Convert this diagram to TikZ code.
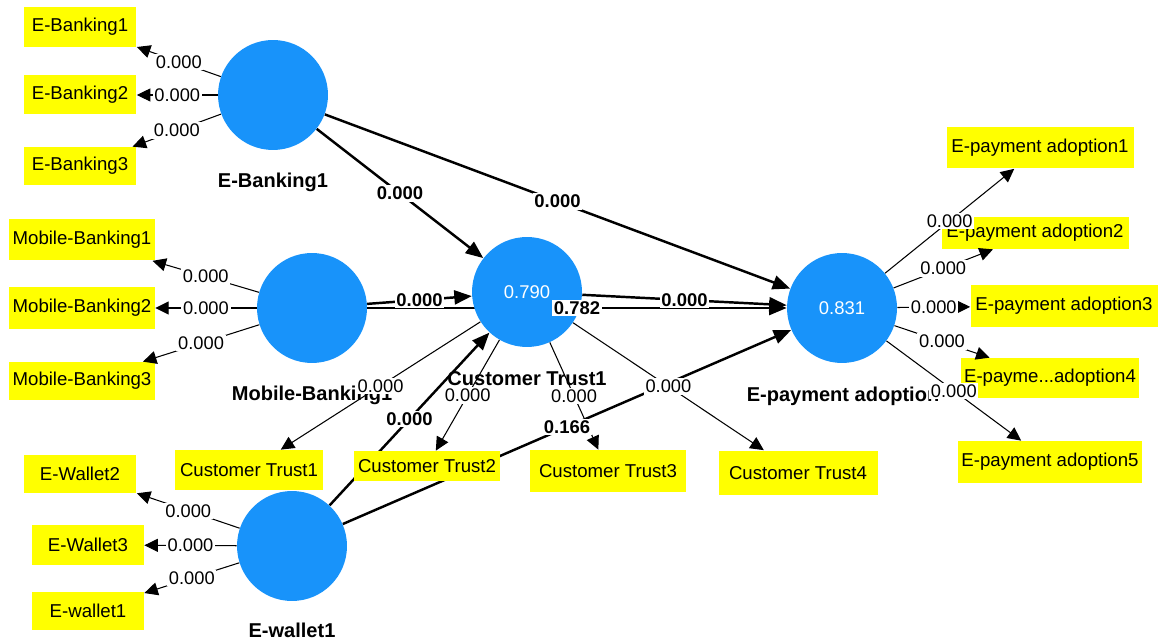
\documentclass[tikz,border=0pt]{standalone}
\usepackage{fontspec}
\setmainfont{Liberation Sans}
\usetikzlibrary{arrows.meta}
\pgfdeclarelayer{bg}
\pgfsetlayers{bg,main}
\definecolor{lvblue}{RGB}{24,147,250}
\definecolor{indyellow}{RGB}{255,255,0}

\begin{document}
\begin{tikzpicture}[x=0.02cm, y=-0.02cm,
    lv/.style={circle, fill=lvblue, minimum size=2.2cm, inner sep=0pt, text=white,
      font=\fontsize{10.5}{12}\selectfont},
    lvname/.style={inner sep=1pt, font=\fontsize{11.4}{13}\selectfont\bfseries},
    ind/.style 2 args={fill=indyellow, minimum width=#1cm, minimum height=#2cm,
      inner sep=2pt, font=\fontsize{10.6}{12}\selectfont},
    loadarrow/.style={->, >={Triangle[length=0.27cm, width=0.26cm]}, line width=0.6pt},
    patharrow/.style={->, >={Triangle[length=0.35cm, width=0.28cm]}, line width=1.4pt},
    olab/.style={fill=white, inner sep=1pt, font=\fontsize{10.4}{12}\selectfont},
    plab/.style={fill=white, inner sep=1pt, font=\fontsize{10.5}{12}\selectfont\bfseries}]
  \useasboundingbox (0,0) rectangle (1158,644);

  % --- 1. Latent variables ---
  \node[lv] (eb) at (273,95) {};
  \node[lv] (mb) at (312,308) {};
  \node[lv] (ct) at (527,292) {0.790};
  \node[lv] (ep) at (842,308) {0.831};
  \node[lv] (ew) at (292,546) {};

  \node[lvname] (ebname) at (273,182) {E-Banking1};
  \node[lvname] (mbname) at (312,395) {Mobile-Banking1};
  \node[lvname] (ctname) at (527,379) {Customer Trust1};
  \node[lvname] (epname) at (843,396) {E-payment adoption};
  \node[lvname] (ewname) at (292,630) {E-wallet1};

  % --- 2. Indicators ---
  \node[ind={2.26}{0.80}] (eb1) at (80,27) {E-Banking1};
  \node[ind={2.26}{0.78}] (eb2) at (80,95) {E-Banking2};
  \node[ind={2.26}{0.76}] (eb3) at (80,166) {E-Banking3};

  \node[ind={2.94}{0.82}] (mb1) at (82,240) {Mobile-Banking1};
  \node[ind={2.88}{0.86}] (mb2) at (82,308) {Mobile-Banking2};
  \node[ind={2.88}{0.76}] (mb3) at (82,381) {Mobile-Banking3};

  \node[ind={2.26}{0.76}] (ew2) at (80,474) {E-Wallet2};
  \node[ind={2.24}{0.80}] (ew3) at (88,545) {E-Wallet3};
  \node[ind={2.24}{0.76}] (ew1) at (88,611) {E-wallet1};

  \node[ind={2.98}{0.80}] (ct1) at (249,470) {Customer Trust1};
  \node[ind={2.80}{0.60}] (ct2) at (427,466) {Customer Trust2};
  \node[ind={3.14}{0.84}] (ct3) at (608,471) {Customer Trust3};
  \node[ind={3.18}{0.90}] (ct4) at (798,473) {Customer Trust4};

  \node[ind={3.74}{0.82}] (ep1) at (1040,148) {E-payment adoption1};
  \node[ind={3.74}{0.64}] (ep2) at (1035,233) {E-payment adoption2};
  \node[ind={3.74}{0.86}] (ep3) at (1064,306) {E-payment adoption3};
  \node[ind={3.54}{0.80}] (ep4) at (1050,378) {E-payme...adoption4};
  \node[ind={3.66}{0.84}] (ep5) at (1050,462) {E-payment adoption5};

  % --- 3. Structural paths (drawn behind the circles) ---
  \begin{pgfonlayer}{bg}
    \draw[patharrow] (eb) -- coordinate (ebct) (ct);
    \draw[patharrow] (eb) -- coordinate (ebep) (ep);
    \draw[patharrow] (mb) -- coordinate (mbct) (ct);
    \draw[patharrow] (mb) -- coordinate (mbep) (ep);
    \draw[patharrow] (ct) -- coordinate (ctep) (ep);
    \draw[patharrow] (ew) -- coordinate (ewct) (ct);
    \draw[patharrow] (ew) -- coordinate (ewep) (ep);
  \end{pgfonlayer}

  % --- 4. Outer loadings ---
  \draw[loadarrow] (eb) -- node[olab] (eb1w) {0.000} (eb1);
  \draw[loadarrow] (eb) -- node[olab] (eb2w) {0.000} (eb2);
  \draw[loadarrow] (eb) -- node[olab] (eb3w) {0.000} (eb3);

  \draw[loadarrow] (mb) -- node[olab] (mb1w) {0.000} (mb1);
  \draw[loadarrow] (mb) -- node[olab] (mb2w) {0.000} (mb2);
  \draw[loadarrow] (mb) -- node[olab] (mb3w) {0.000} (mb3);

  \draw[loadarrow] (ew) -- node[olab] (ew2w) {0.000} (ew2);
  \draw[loadarrow] (ew) -- node[olab] (ew3w) {0.000} (ew3);
  \draw[loadarrow] (ew) -- node[olab] (ew1w) {0.000} (ew1);

  \draw[loadarrow] (ct) -- node[olab] (ct1w) {0.000} (ct1);
  \draw[loadarrow] (ct) -- node[olab] (ct2w) {0.000} (ct2);
  \draw[loadarrow] (ct) -- node[olab] (ct3w) {0.000} (ct3);
  \draw[loadarrow] (ct) -- node[olab] (ct4w) {0.000} (ct4);

  \draw[loadarrow] (ep) -- node[olab] (ep1w) {0.000} (ep1);
  \draw[loadarrow] (ep) -- node[olab] (ep2w) {0.000} (ep2);
  \draw[loadarrow] (ep) -- node[olab] (ep3w) {0.000} (ep3);
  \draw[loadarrow] (ep) -- node[olab] (ep4w) {0.000} (ep4);
  \draw[loadarrow] (ep) -- node[olab] (ep5w) {0.000} (ep5);

  % --- 5. Path coefficients ---
  \node[plab] (ebctv) at (ebct) {0.000};
  \node[plab] (ebepv) at (ebep) {0.000};
  \node[plab] (mbctv) at (mbct) {0.000};
  \node[plab] (mbepv) at (mbep) {0.782};
  \node[plab] (ctepv) at (ctep) {0.000};
  \node[plab] (ewctv) at (ewct) {0.000};
  \node[plab] (ewepv) at (ewep) {0.166};
\end{tikzpicture}
\end{document}
